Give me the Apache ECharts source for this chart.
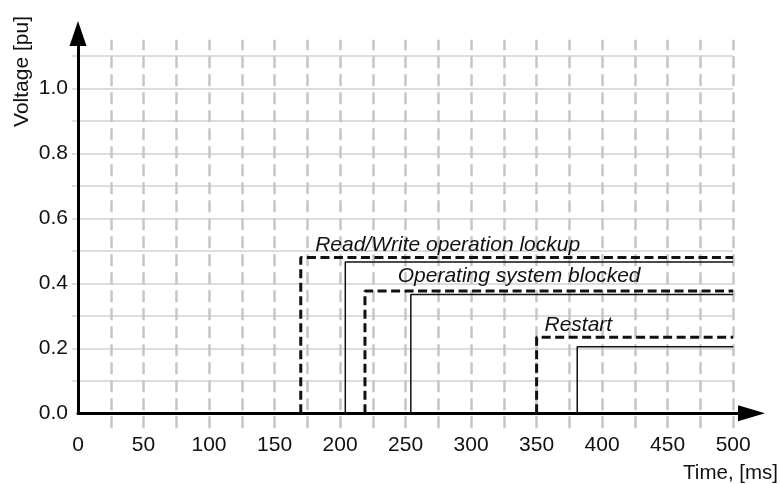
<!DOCTYPE html>
<html>
<head>
<meta charset="utf-8">
<script src="https://cdn.jsdelivr.net/npm/echarts@6/dist/echarts.min.js"></script>
<style>html,body{margin:0;padding:0;background:#fff}#c{width:780px;height:484px}</style>
</head>
<body>
<div id="c"></div>
<script>
// ---- data ----
const xTicks = [0, 50, 100, 150, 200, 250, 300, 350, 400, 450, 500];
const yTicks = [0.0, 0.2, 0.4, 0.6, 0.8, 1.0];
const timeEnd = 500;
const thresholdNames = ['Read/Write operation lockup', 'Operating system blocked', 'Restart'];
const dashedOnset = [170, 219, 350];
const dashedLevel = [0.48, 0.377, 0.234];
const solidOnset = [204, 254, 381];
const solidLevel = [0.466, 0.366, 0.205];
const annotationAnchor = [[181, 0.519], [244, 0.422], [356, 0.273]];
const minorXStep = 25;
const minorYStep = 0.1;

// ---- layout constants ----
const FONT = '"Liberation Sans", Arial, sans-serif';
const xMax = 514, yMax = 1.17;
const gridYLow = -0.046, gridYHigh = 1.151, gridXLow = -4.6;

const vLines = [];
for (let x = minorXStep; x <= timeEnd + 1e-9; x += minorXStep) vLines.push({coords: [[x, gridYLow], [x, gridYHigh]]});
const hLines = [];
for (let i = 1; i <= 11; i++) { const y = +(i * minorYStep).toFixed(2); hLines.push({coords: [[gridXLow, y], [timeEnd, y]]}); }

const series = [
  {type: 'lines', coordinateSystem: 'cartesian2d', clip: false, silent: true, z: -2,
   lineStyle: {color: '#d2d2d2', width: 1.5, opacity: 1}, data: hLines, animation: false},
  {type: 'lines', coordinateSystem: 'cartesian2d', clip: false, silent: true, z: -1,
   lineStyle: {color: '#c6c6c6', width: 2.5, type: [12, 6], opacity: 1}, data: vLines, animation: false}
];
for (let i = 0; i < thresholdNames.length; i++) {
  series.push({
    type: 'line', name: thresholdNames[i] + ' limit', symbol: 'none', animation: false, z: 3,
    lineStyle: {color: '#111', width: 3, type: [9, 4.5]},
    data: [[dashedOnset[i], 0], [dashedOnset[i], dashedLevel[i]], [timeEnd, dashedLevel[i]]],
    markPoint: {
      symbol: 'circle', symbolSize: 0, silent: true, animation: false,
      label: {show: true, position: 'right', distance: 0, formatter: thresholdNames[i],
              color: '#111', fontSize: 21, fontStyle: 'italic', fontFamily: FONT},
      data: [{coord: annotationAnchor[i]}]
    }
  });
  series.push({
    type: 'line', name: thresholdNames[i], symbol: 'none', animation: false, z: 3,
    lineStyle: {color: '#111', width: 1.5},
    data: [[solidOnset[i], 0], [solidOnset[i], solidLevel[i]], [timeEnd, solidLevel[i]]]
  });
}

const chart = echarts.init(document.getElementById('c'), null, {renderer: 'canvas'});
chart.setOption({
  backgroundColor: '#fff',
  animation: false,
  grid: {left: 78, right: 28.5, top: 33.5, bottom: 70.7, containLabel: false},
  xAxis: {
    type: 'value', min: 0, max: xMax, interval: 50,
    axisLine: {show: true, onZero: true, lineStyle: {color: '#000', width: 3}, symbol: ['none', 'triangle'], symbolSize: [16, 27]},
    axisTick: {show: false}, splitLine: {show: false},
    axisLabel: {margin: 21, color: '#111', fontSize: 21, fontFamily: FONT,
      formatter: v => xTicks.includes(v) ? String(v) : ''}
  },
  yAxis: {
    type: 'value', min: 0, max: yMax, interval: 0.2,
    axisLine: {show: true, lineStyle: {color: '#000', width: 3}, symbol: ['none', 'triangle'], symbolSize: [17, 25]},
    axisTick: {show: false}, splitLine: {show: false},
    axisLabel: {margin: 10, color: '#111', fontSize: 21, fontFamily: FONT,
      formatter: v => yTicks.some(t => Math.abs(t - v) < 1e-6) ? v.toFixed(1) : ''}
  },
  graphic: [
    {type: 'text', x: 22, y: 71.5, rotation: Math.PI / 2, silent: true,
     style: {text: 'Voltage [pu]', fill: '#111', font: '21px ' + FONT, align: 'center', verticalAlign: 'middle'}},
    {type: 'text', x: 778, y: 473, silent: true,
     style: {text: 'Time, [ms]', fill: '#111', font: '20.5px ' + FONT, align: 'right', verticalAlign: 'middle'}}
  ],
  series: series
});
</script>
</body>
</html>
